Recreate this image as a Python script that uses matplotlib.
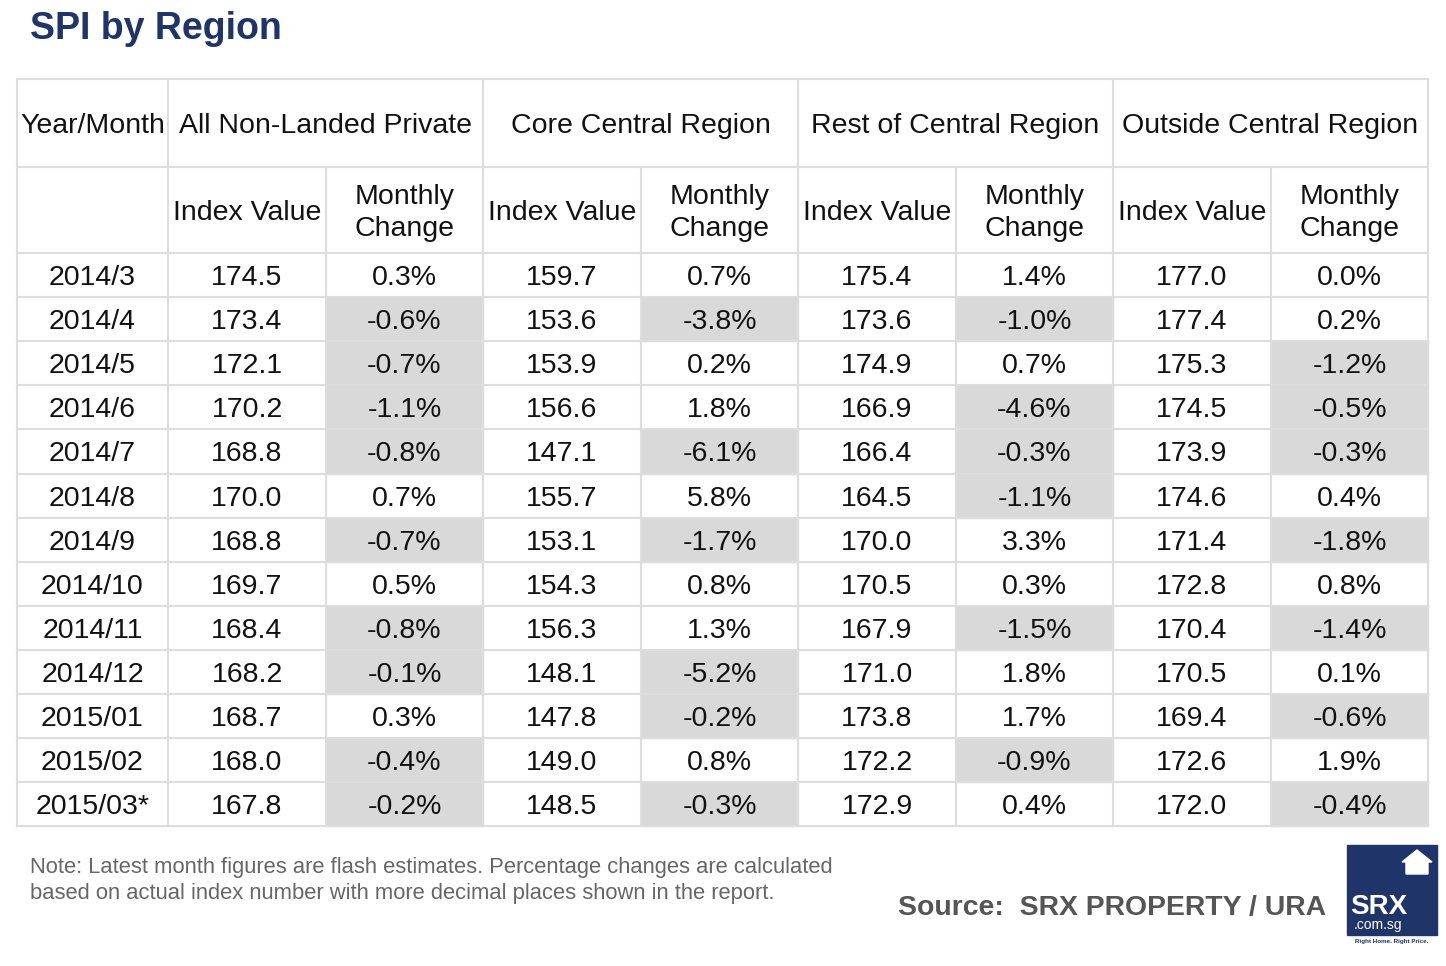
import matplotlib
matplotlib.use("Agg")
import matplotlib.pyplot as plt
from matplotlib.patches import Rectangle, Polygon

plt.rcParams['font.family'] = ['Liberation Sans', 'DejaVu Sans']

months = ["2014/3","2014/4","2014/5","2014/6","2014/7","2014/8","2014/9","2014/10",
          "2014/11","2014/12","2015/01","2015/02","2015/03*"]
all_idx = [174.5,173.4,172.1,170.2,168.8,170.0,168.8,169.7,168.4,168.2,168.7,168.0,167.8]
all_chg = [0.3,-0.6,-0.7,-1.1,-0.8,0.7,-0.7,0.5,-0.8,-0.1,0.3,-0.4,-0.2]
ccr_idx = [159.7,153.6,153.9,156.6,147.1,155.7,153.1,154.3,156.3,148.1,147.8,149.0,148.5]
ccr_chg = [0.7,-3.8,0.2,1.8,-6.1,5.8,-1.7,0.8,1.3,-5.2,-0.2,0.8,-0.3]
rcr_idx = [175.4,173.6,174.9,166.9,166.4,164.5,170.0,170.5,167.9,171.0,173.8,172.2,172.9]
rcr_chg = [1.4,-1.0,0.7,-4.6,-0.3,-1.1,3.3,0.3,-1.5,1.8,1.7,-0.9,0.4]
ocr_idx = [177.0,177.4,175.3,174.5,173.9,174.6,171.4,172.8,170.4,170.5,169.4,172.6,172.0]
ocr_chg = [0.0,0.2,-1.2,-0.5,-0.3,0.4,-1.8,0.8,-1.4,0.1,-0.6,1.9,-0.4]
groups = ["All Non-Landed Private","Core Central Region","Rest of Central Region","Outside Central Region"]

fig = plt.figure(figsize=(14.46, 9.66), dpi=100)
ax = fig.add_axes([0, 0, 1, 1])
ax.set_xlim(0, 1446); ax.set_ylim(966, 0); ax.axis('off')

xs = [17,168,326,483,641,798,956,1113,1271,1428]
ys = [79,167,253] + [253 + 44.1*(i+1) for i in range(13)]
ys[-1] = 826
lc = '#dddddd'; fs = 20.5; tc = '#111111'
shade = '#d9d9d9'
dy = 3

series = [(all_idx, all_chg), (ccr_idx, ccr_chg), (rcr_idx, rcr_chg), (ocr_idx, ocr_chg)]
for r, m in enumerate(months):
    y0, y1 = ys[2+r], ys[3+r]; yc = (y0+y1)/2 + dy
    ax.text((xs[0]+xs[1])/2, yc, m, ha='center', va='center', fontsize=fs, color=tc)
    for g, (idx, chg) in enumerate(series):
        c0 = xs[1+2*g]; c1 = xs[2+2*g]; c2 = xs[3+2*g]
        if chg[r] < 0:
            ax.add_patch(Rectangle((c1, y0), c2-c1, y1-y0, color=shade, zorder=0))
        ax.text((c0+c1)/2, yc, f"{idx[r]:.1f}", ha='center', va='center', fontsize=fs, color=tc)
        ax.text((c1+c2)/2, yc, f"{chg[r]:.1f}%", ha='center', va='center', fontsize=fs, color=tc)

ax.text((xs[0]+xs[1])/2, (ys[0]+ys[1])/2 + dy, "Year/Month", ha='center', va='center', fontsize=fs, color=tc)
for g, name in enumerate(groups):
    c0 = xs[1+2*g]; c1 = xs[2+2*g]; c2 = xs[3+2*g]
    ax.text((c0+c2)/2, (ys[0]+ys[1])/2 + dy, name, ha='center', va='center', fontsize=fs, color=tc)
    ax.text((c0+c1)/2, (ys[1]+ys[2])/2 + dy, "Index Value", ha='center', va='center', fontsize=fs, color=tc)
    ax.text((c1+c2)/2, (ys[1]+ys[2])/2 + dy, "Monthly\nChange", ha='center', va='center', fontsize=fs, color=tc, linespacing=1.3)

for y in ys:
    ax.plot([xs[0], xs[-1]], [y, y], color=lc, lw=1.5, zorder=1)
for i, x in enumerate(xs):
    if i in (0, 1, 3, 5, 7, 9):
        ax.plot([x, x], [ys[0], ys[-1]], color=lc, lw=1.5, zorder=1)
    else:
        ax.plot([x, x], [ys[1], ys[-1]], color=lc, lw=1.5, zorder=1)

ax.text(30, 29, "SPI by Region", ha='left', va='center', fontsize=27, fontweight='bold', color='#1f3468')
ax.text(30, 867, "Note: Latest month figures are flash estimates. Percentage changes are calculated",
        ha='left', va='center', fontsize=15.8, color='#666666')
ax.text(30, 894, "based on actual index number with more decimal places shown in the report.",
        ha='left', va='center', fontsize=15.8, color='#666666')
ax.text(1326, 908, "Source:  SRX PROPERTY / URA", ha='right', va='center', fontsize=20.4,
        fontweight='bold', color='#555555')

ax.add_patch(Rectangle((1347, 845), 90, 90, color='#1f3468', zorder=2))
ax.add_patch(Polygon([[1402, 862], [1417, 850], [1432, 862], [1428, 862], [1428, 874],
                      [1406, 874], [1406, 862]], color='white', zorder=3))
ax.text(1350, 907, "SRX", ha='left', va='center', fontsize=20, fontweight='bold', color='white', zorder=4)
ax.text(1354, 925, ".com.sg", ha='left', va='center', fontsize=10, color='white', zorder=4)
ax.text(1392, 942, "Right Home. Right Price.", ha='center', va='center', fontsize=4.5,
        fontweight='bold', color='#1f3468')

fig.savefig("out.png", dpi=100)
